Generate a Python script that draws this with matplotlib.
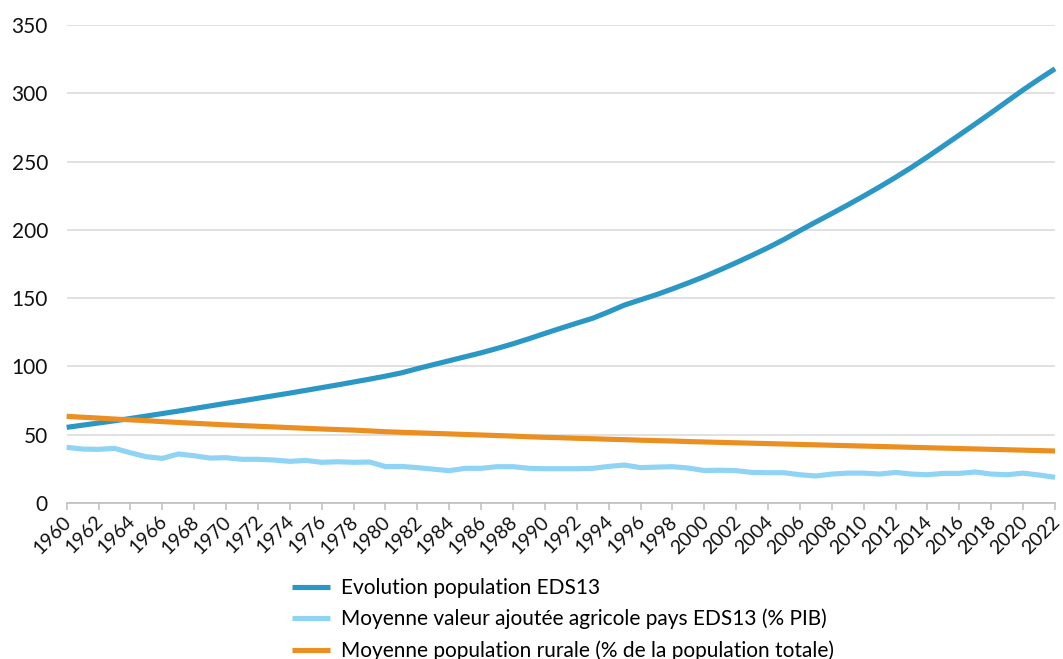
import matplotlib
matplotlib.use("Agg")
import matplotlib.pyplot as plt
from matplotlib.ticker import MultipleLocator
from matplotlib.transforms import ScaledTranslation

plt.rcParams['font.family'] = ['Lato', 'DejaVu Sans']

years = list(range(1960, 2023))

population_eds13 = [
    55.4, 57.0, 58.6, 60.2, 61.9, 63.7, 65.5, 67.3, 69.2, 71.1,
    73.0, 74.8, 76.7, 78.6, 80.5, 82.5, 84.5, 86.5, 88.6, 90.7,
    92.9, 95.3, 98.4, 101.3, 104.2, 107.1, 110.0, 113.2, 116.6, 120.3,
    124.2, 128.0, 131.7, 135.3, 140.0, 145.0, 148.8, 152.6, 156.8, 161.2,
    165.8, 170.8, 176.0, 181.4, 187.0, 193.0, 199.5, 205.8, 212.0, 218.3,
    224.8, 231.5, 238.5, 245.8, 253.5, 261.5, 269.5, 277.6, 285.8, 294.2,
    302.5, 310.4, 318.0,
]

valeur_ajoutee_agricole = [
    40.8, 39.5, 39.3, 40.0, 36.8, 33.9, 32.7, 35.9, 34.6, 32.9,
    33.2, 32.0, 32.0, 31.5, 30.5, 31.2, 29.8, 30.2, 29.8, 30.0,
    26.7, 26.8, 25.9, 24.8, 23.7, 25.4, 25.4, 26.6, 26.6, 25.4,
    25.1, 25.1, 25.1, 25.4, 26.8, 27.8, 25.9, 26.3, 26.6, 25.6,
    23.8, 24.0, 23.7, 22.4, 22.2, 22.2, 20.7, 19.8, 21.2, 21.9,
    21.9, 21.2, 22.4, 21.2, 20.7, 21.7, 21.7, 22.7, 21.2, 20.7,
    21.9, 20.5, 18.8,
]

population_rurale = [
    63.5, 62.8, 62.2, 61.5, 60.9, 60.3, 59.6, 59.0, 58.4, 57.8,
    57.2, 56.7, 56.2, 55.7, 55.2, 54.7, 54.2, 53.8, 53.4, 52.8,
    52.2, 51.8, 51.4, 51.0, 50.6, 50.2, 49.8, 49.4, 49.0, 48.5,
    48.1, 47.8, 47.4, 47.1, 46.7, 46.4, 46.0, 45.7, 45.4, 45.0,
    44.7, 44.4, 44.1, 43.8, 43.5, 43.2, 42.9, 42.6, 42.3, 42.0,
    41.7, 41.4, 41.1, 40.8, 40.5, 40.2, 39.9, 39.6, 39.3, 39.0,
    38.7, 38.4, 38.1,
]

labels = [
    "Evolution population EDS13",
    "Moyenne valeur ajoutée agricole pays EDS13 (% PIB)",
    "Moyenne population rurale (% de la population totale)",
]
colors = ["#2B97C5", "#8FD3F5", "#EA8F20"]

fig = plt.figure(figsize=(10.63, 6.59), dpi=100)
ax = fig.add_axes([0.0627, 0.2367, 0.9298, 0.7253])

series = [population_eds13, valeur_ajoutee_agricole, population_rurale]
for values, color, label in zip(series, colors, labels):
    ax.plot(years, values, color=color, lw=3.7, label=label,
            solid_capstyle='butt', solid_joinstyle='round', clip_on=False)

ax.set_xlim(1960, 2022)
ax.set_ylim(0, 350)
ax.yaxis.set_major_locator(MultipleLocator(50))
ax.set_xticks(years[::2])
ax.set_xticklabels([str(y) for y in years[::2]], rotation=45,
                   ha='right', va='top', rotation_mode='anchor')

ax.grid(axis='y', color='#d9d9d9', lw=1.1)
ax.set_axisbelow(True)
for side in ['top', 'right', 'left']:
    ax.spines[side].set_visible(False)
ax.spines['bottom'].set_color('#bfbfbf')
ax.spines['bottom'].set_linewidth(1.2)

ax.tick_params(axis='y', length=0, pad=13.5, labelsize=15, labelcolor='#111111')
ax.tick_params(axis='x', length=5, width=1.1, color='#bfbfbf', pad=2,
               labelsize=14, labelcolor='#111111')

# nudge the rotated year labels a little to the left of their ticks
shift = ScaledTranslation(-4 / 100, 0, fig.dpi_scale_trans)
for tick in ax.xaxis.get_major_ticks():
    tick.label1.set_transform(tick.label1.get_transform() + shift)

fig.legend(loc='upper left', bbox_to_anchor=(0.2747, 0.1229),
           frameon=False, fontsize=15, handlelength=1.83,
           handletextpad=0.53, labelspacing=0.52, borderpad=0,
           borderaxespad=0)

fig.savefig("out.png", dpi=100)
